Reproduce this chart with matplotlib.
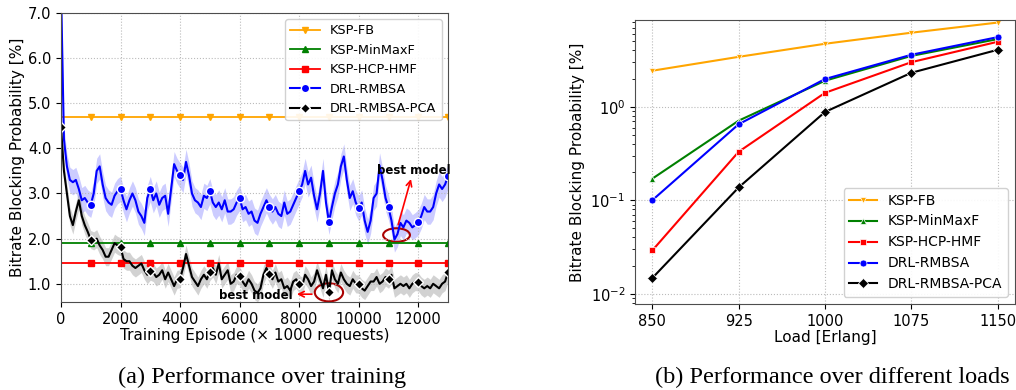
import numpy as np
import matplotlib
matplotlib.use('Agg')
import matplotlib.pyplot as plt
from matplotlib.patches import Ellipse

# ========== (a) training curves ==========
episodes = np.arange(0, 13001, 100)

drl_rmbsa = [7.6, 4.2, 3.6, 3.3, 3.25, 3.3, 3.1, 2.85, 2.9, 2.8,
             2.75, 3.0, 3.5, 3.6, 3.2, 2.9, 2.8, 2.75, 2.95, 3.05,
             3.1, 2.85, 2.65, 2.85, 3.0, 2.85, 2.6, 2.5, 2.35, 2.9,
             3.1, 2.85, 3.0, 2.75, 2.9, 2.95, 2.55, 3.1, 3.65, 3.5,
             3.4, 3.3, 3.7, 3.4, 3.0, 2.85, 2.8, 2.7, 2.95, 2.9,
             3.05, 2.8, 2.7, 2.8, 2.65, 2.85, 2.6, 2.6, 2.65, 2.8,
             2.9, 2.65, 2.7, 2.55, 2.6, 2.4, 2.35, 2.55, 2.7, 2.85,
             2.7, 2.6, 2.7, 2.55, 2.5, 2.8, 2.55, 2.6, 2.75, 2.9,
             3.05, 3.2, 3.5, 3.2, 3.35, 2.95, 2.65, 3.0, 3.5, 2.8,
             2.37, 2.7, 3.0, 3.2, 3.6, 3.82, 3.3, 2.9, 3.05, 2.8,
             2.67, 2.8, 2.4, 2.15, 2.4, 2.9, 3.0, 3.62, 3.3, 2.9,
             2.69, 2.4, 1.98, 2.1, 2.35, 2.25, 2.4, 2.35, 2.25, 2.3,
             2.36, 2.5, 2.7, 2.6, 2.6, 2.7, 3.0, 3.2, 3.1, 3.2,
             3.39]

drl_rmbsa_pca = [4.47, 3.5, 3.0, 2.5, 2.3, 2.6, 2.85, 2.5, 2.3, 2.15,
                 1.98, 1.95, 2.0, 1.85, 1.75, 1.6, 1.6, 1.75, 1.9, 1.85,
                 1.82, 1.55, 1.5, 1.5, 1.4, 1.35, 1.4, 1.45, 1.3, 1.2,
                 1.28, 1.25, 1.15, 1.2, 1.3, 1.1, 1.25, 1.1, 0.95, 1.1,
                 1.11, 1.35, 1.66, 1.4, 1.15, 1.05, 0.95, 1.1, 1.2, 1.1,
                 1.27, 1.35, 1.2, 1.45, 1.1, 1.2, 1.3, 1.0, 1.05, 1.2,
                 1.17, 1.05, 0.95, 1.1, 1.0, 0.85, 0.8, 0.9, 1.2, 1.35,
                 1.22, 1.1, 1.25, 1.05, 1.1, 0.9, 0.95, 0.85, 1.05, 1.1,
                 0.99, 0.95, 1.2, 1.1, 0.95, 1.05, 1.3, 1.1, 0.9, 1.2,
                 0.81, 1.3, 1.1, 1.0, 1.25, 1.1, 1.0, 0.95, 1.1, 1.0,
                 0.99, 0.9, 0.85, 0.95, 1.05, 1.05, 1.15, 1.0, 1.05, 1.15,
                 1.1, 1.2, 0.9, 0.95, 1.0, 0.95, 1.0, 0.9, 1.0, 1.05,
                 1.04, 0.95, 0.9, 0.95, 0.9, 1.0, 0.95, 0.9, 1.0, 1.05,
                 1.26]

ksp_fb_train = 4.7
ksp_minmaxf_train = 1.9
ksp_hcp_hmf_train = 1.45
drl_spread = 0.28
pca_spread = 0.2

# ========== (b) different loads ==========
loads = [850, 925, 1000, 1075, 1150]
ksp_fb = [2.43, 3.42, 4.72, 6.2, 7.96]
ksp_minmaxf = [0.17, 0.71, 1.9, 3.5, 5.3]
ksp_hcp_hmf = [0.029, 0.33, 1.41, 3.0, 4.96]
drl_load = [0.10, 0.65, 1.98, 3.6, 5.56]
pca_load = [0.0147, 0.137, 0.88, 2.31, 4.07]

fig = plt.figure(figsize=(10.16, 3.9), dpi=100)
ax1 = fig.add_axes([0.060, 0.226, 0.381, 0.741])
ax2 = fig.add_axes([0.625, 0.221, 0.374, 0.728])

n = len(episodes)
ax1.plot(episodes, [ksp_fb_train] * n, color='orange', marker='v', markersize=4,
         markevery=slice(10, None, 10), lw=1.3, label='KSP-FB')
ax1.plot(episodes, [ksp_minmaxf_train] * n, color='green', marker='^', markersize=4,
         markevery=slice(10, None, 10), lw=1.3, label='KSP-MinMaxF')
ax1.plot(episodes, [ksp_hcp_hmf_train] * n, color='red', marker='s', markersize=5,
         markevery=slice(10, None, 10), lw=1.3, label='KSP-HCP-HMF')

drl = np.array(drl_rmbsa)
pca = np.array(drl_rmbsa_pca)
ax1.fill_between(episodes, drl - drl_spread, drl + drl_spread, color='blue', alpha=0.2, lw=0)
ax1.fill_between(episodes, pca - pca_spread, pca + pca_spread, color='gray', alpha=0.35, lw=0)
ax1.plot(episodes, drl, color='blue', marker='o', markersize=6, markeredgecolor='white',
         markevery=10, lw=1.5, label='DRL-RMBSA')
ax1.plot(episodes, pca, color='black', marker='D', markersize=5, markeredgecolor='white',
         markevery=10, lw=1.5, label='DRL-RMBSA-PCA')

ax1.set_xlim(0, 13000)
ax1.set_ylim(0.6, 7.0)
ax1.set_yticks([1, 2, 3, 4, 5, 6, 7])
ax1.set_yticklabels(['1.0', '2.0', '3.0', '4.0', '5.0', '6.0', '7.0'])
ax1.set_xticks(range(0, 12001, 2000))
ax1.tick_params(labelsize=10.5)
ax1.grid(True, linestyle=':', color='#bbbbbb')
ax1.set_xlabel('Training Episode (× 1000 requests)', fontsize=11, labelpad=1)
ax1.set_ylabel('Bitrate Blocking Probability [%]', fontsize=11, labelpad=2)
ax1.legend(loc='upper right', fontsize=9.3, framealpha=0.9, handlelength=2.3)

# best model annotations
ax1.add_patch(Ellipse((11270, 2.08), 900, 0.3, fill=False, edgecolor='#aa0000', lw=1.5))
ax1.annotate('', xy=(11780, 3.38), xytext=(11300, 2.25),
             arrowprops=dict(arrowstyle='->', color='red', lw=1.2))
ax1.text(11850, 3.52, 'best model', fontsize=8.5, fontweight='bold', ha='center', va='center')
ax1.add_patch(Ellipse((9000, 0.81), 950, 0.4, fill=False, edgecolor='#aa0000', lw=1.5))
ax1.annotate('', xy=(7830, 0.77), xytext=(8520, 0.77),
             arrowprops=dict(arrowstyle='->', color='red', lw=1.2))
ax1.text(7780, 0.73, 'best model', fontsize=8.5, fontweight='bold', ha='right', va='center')

# right panel
ax2.plot(loads, ksp_fb, color='orange', marker='v', markersize=5, markeredgecolor='white',
         markeredgewidth=0.5, lw=1.5, label='KSP-FB')
ax2.plot(loads, ksp_minmaxf, color='green', marker='^', markersize=5, markeredgecolor='white',
         markeredgewidth=0.5, lw=1.5, label='KSP-MinMaxF')
ax2.plot(loads, ksp_hcp_hmf, color='red', marker='s', markersize=5, markeredgecolor='white',
         markeredgewidth=0.5, lw=1.5, label='KSP-HCP-HMF')
ax2.plot(loads, drl_load, color='blue', marker='o', markersize=5, markeredgecolor='white',
         markeredgewidth=0.5, lw=1.5, label='DRL-RMBSA')
ax2.plot(loads, pca_load, color='black', marker='D', markersize=5, markeredgecolor='white',
         markeredgewidth=0.5, lw=1.5, label='DRL-RMBSA-PCA')
ax2.set_yscale('log')
ax2.set_xlim(835, 1165)
ax2.set_ylim(0.0078, 8.5)
ax2.set_xticks(loads)
ax2.tick_params(labelsize=10.5)
ax2.grid(True, linestyle=':', color='#bbbbbb')
ax2.set_xlabel('Load [Erlang]', fontsize=11, labelpad=1)
ax2.set_ylabel('Bitrate Blocking Probability [%]', fontsize=11)
ax2.legend(loc='lower right', fontsize=10, framealpha=0.9)

for ax in (ax1, ax2):
    for s in ax.spines.values():
        s.set_color('0.3')

fig.text(0.258, 0.018, '(a) Performance over training', fontsize=17.5,
         family='Liberation Serif', ha='center', va='baseline')
fig.text(0.819, 0.018, '(b) Performance over different loads', fontsize=17.5,
         family='Liberation Serif', ha='center', va='baseline')

plt.savefig('out.png', dpi=100)
